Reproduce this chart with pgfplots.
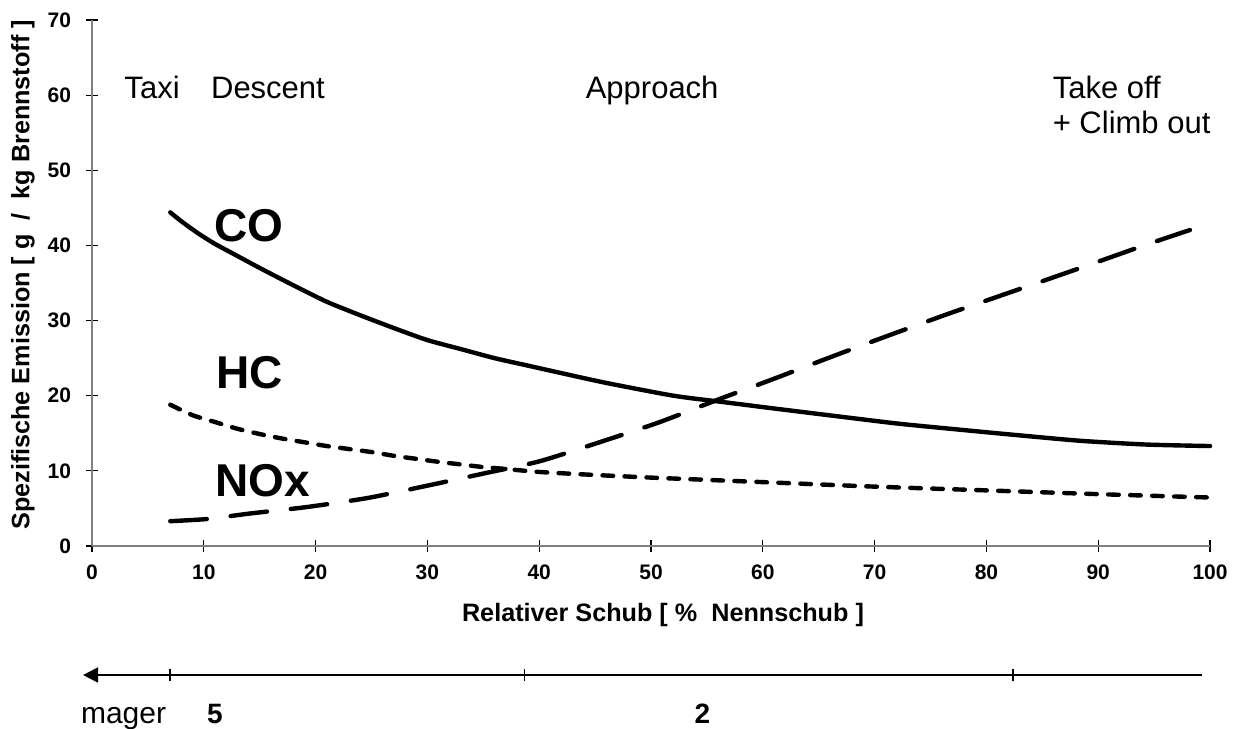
\documentclass[border=0pt]{standalone}
\usepackage{fontspec}
\setmainfont{Liberation Sans}
\usepackage{pgfplots}
\pgfplotsset{compat=1.18}
\usetikzlibrary{arrows.meta}

\begin{document}
\begin{tikzpicture}
\begin{axis}[
  scale only axis, width=559pt, height=263pt,
  xmin=0, xmax=100, ymin=0, ymax=70,
  axis lines*=left,
  axis line style={draw=gray, line width=1pt},
  xtick={0,10,...,100}, ytick={0,10,...,70},
  tick align=center, major tick length=6pt,
  tick style={black, line width=0.6pt},
  ticklabel style={font=\fontsize{10.5}{12}\selectfont\bfseries},
  xticklabel style={yshift=-3pt},
  yticklabel style={xshift=-4pt},
  /pgf/number format/assume math mode=true,
  clip=false,
  every axis plot/.append style={line width=2.2pt, line cap=round, line join=round, black},
]
% CO
\addplot[smooth, tension=0.4] coordinates {
(7,44.4) (8,43.2) (9.5,41.6) (11,40.2) (13,38.6) (15,37.0) (18,34.7) (21,32.5)
(24,30.7) (27,29.0) (30,27.4) (33,26.2) (36,25.0) (39,24.0) (42,23.0) (46,21.7)
(52,20.0) (56.2,19.2) (61,18.3) (67,17.2) (72,16.3) (76.4,15.65) (82.4,14.8)
(88.4,14.0) (94.3,13.5) (100,13.3)};
% HC
\addplot[smooth, tension=0.4, dash pattern=on 5.3pt off 5.7pt] coordinates {
(7,18.8) (9,17.4) (11,16.5) (13,15.6) (15,14.9) (17,14.3) (19,13.8) (21,13.3)
(23,12.9) (25,12.5) (27,12.0) (29,11.6) (31,11.2) (33,10.85) (35,10.5) (37,10.25)
(40,9.85) (45,9.45) (50,9.1) (55,8.8) (60,8.5) (70,7.9) (80,7.4) (90,6.9) (100,6.45)};
% NOx
\addplot[smooth, tension=0.4, dash pattern=on 18.3pt off 12pt] coordinates {
(7,3.3) (10.4,3.6) (14,4.3) (19.3,5.2) (24.7,6.4) (29.9,8.0) (35.2,9.7) (40.1,11.3)
(46,14.1) (50.8,16.5) (56.2,19.6) (60.9,22.2) (66,25.1) (70.5,27.6) (76.4,30.8)
(82.4,33.9) (88.4,37.0) (94.3,40.1) (98.2,42.05)};

% axis titles
\node[font=\fontsize{12.6}{14}\selectfont\bfseries] at (axis cs:51.07,-9.18)
  {Relativer Schub [ \%\ \ Nennschub ]};
\node[font=\fontsize{12.6}{14}\selectfont\bfseries, rotate=90] at (axis cs:-6.17,36.07)
  {Spezifische Emission [ g\ \ /\ \ kg Brennstoff ]};

% phase labels
\node[anchor=base, font=\fontsize{15.5}{18}\selectfont] at (axis cs:5.37,59.6) {Taxi};
\node[anchor=base, font=\fontsize{15.5}{18}\selectfont] at (axis cs:15.74,59.6) {Descent};
\node[anchor=base, font=\fontsize{15.5}{18}\selectfont] at (axis cs:50.1,59.6) {Approach};
\node[anchor=base west, inner sep=0pt, font=\fontsize{15.5}{18}\selectfont] at (axis cs:85.9,59.6) {Take off};
\node[anchor=base west, inner sep=0pt, font=\fontsize{15.5}{18}\selectfont] at (axis cs:85.9,54.96) {+ Climb out};

% curve labels
\node[anchor=base, font=\fontsize{23}{26}\selectfont\bfseries] at (axis cs:14.04,40.46) {CO};
\node[anchor=base, font=\fontsize{23}{26}\selectfont\bfseries] at (axis cs:14.1,20.9) {HC};
\node[anchor=base, font=\fontsize{23}{26}\selectfont\bfseries] at (axis cs:15.25,6.52) {NOx};

% lean arrow
\draw[line width=1pt, -{Triangle[length=7.5pt,width=7.5pt]}]
  (axis cs:99.3,-17.17) -- (axis cs:-0.8,-17.17);
\draw[line width=0.8pt] (axis cs:6.98,-16.37) -- (axis cs:6.98,-17.97);
\draw[line width=0.8pt] (axis cs:38.7,-16.37) -- (axis cs:38.7,-17.97);
\draw[line width=0.8pt] (axis cs:82.4,-16.37) -- (axis cs:82.4,-17.97);
\node[anchor=base, font=\fontsize{15}{18}\selectfont] at (axis cs:2.82,-23.56) {mager};
\node[anchor=base, font=\fontsize{14}{16}\selectfont\bfseries] at (axis cs:11.0,-23.56) {5};
\node[anchor=base, font=\fontsize{14}{16}\selectfont\bfseries] at (axis cs:54.6,-23.56) {2};

\coordinate (bbsw) at (axis cs:-8.23,-24.35);
\coordinate (bbne) at (axis cs:102.77,72.66);
\end{axis}
\pgfresetboundingbox
\useasboundingbox (bbsw) rectangle (bbne);
\end{tikzpicture}
\end{document}
